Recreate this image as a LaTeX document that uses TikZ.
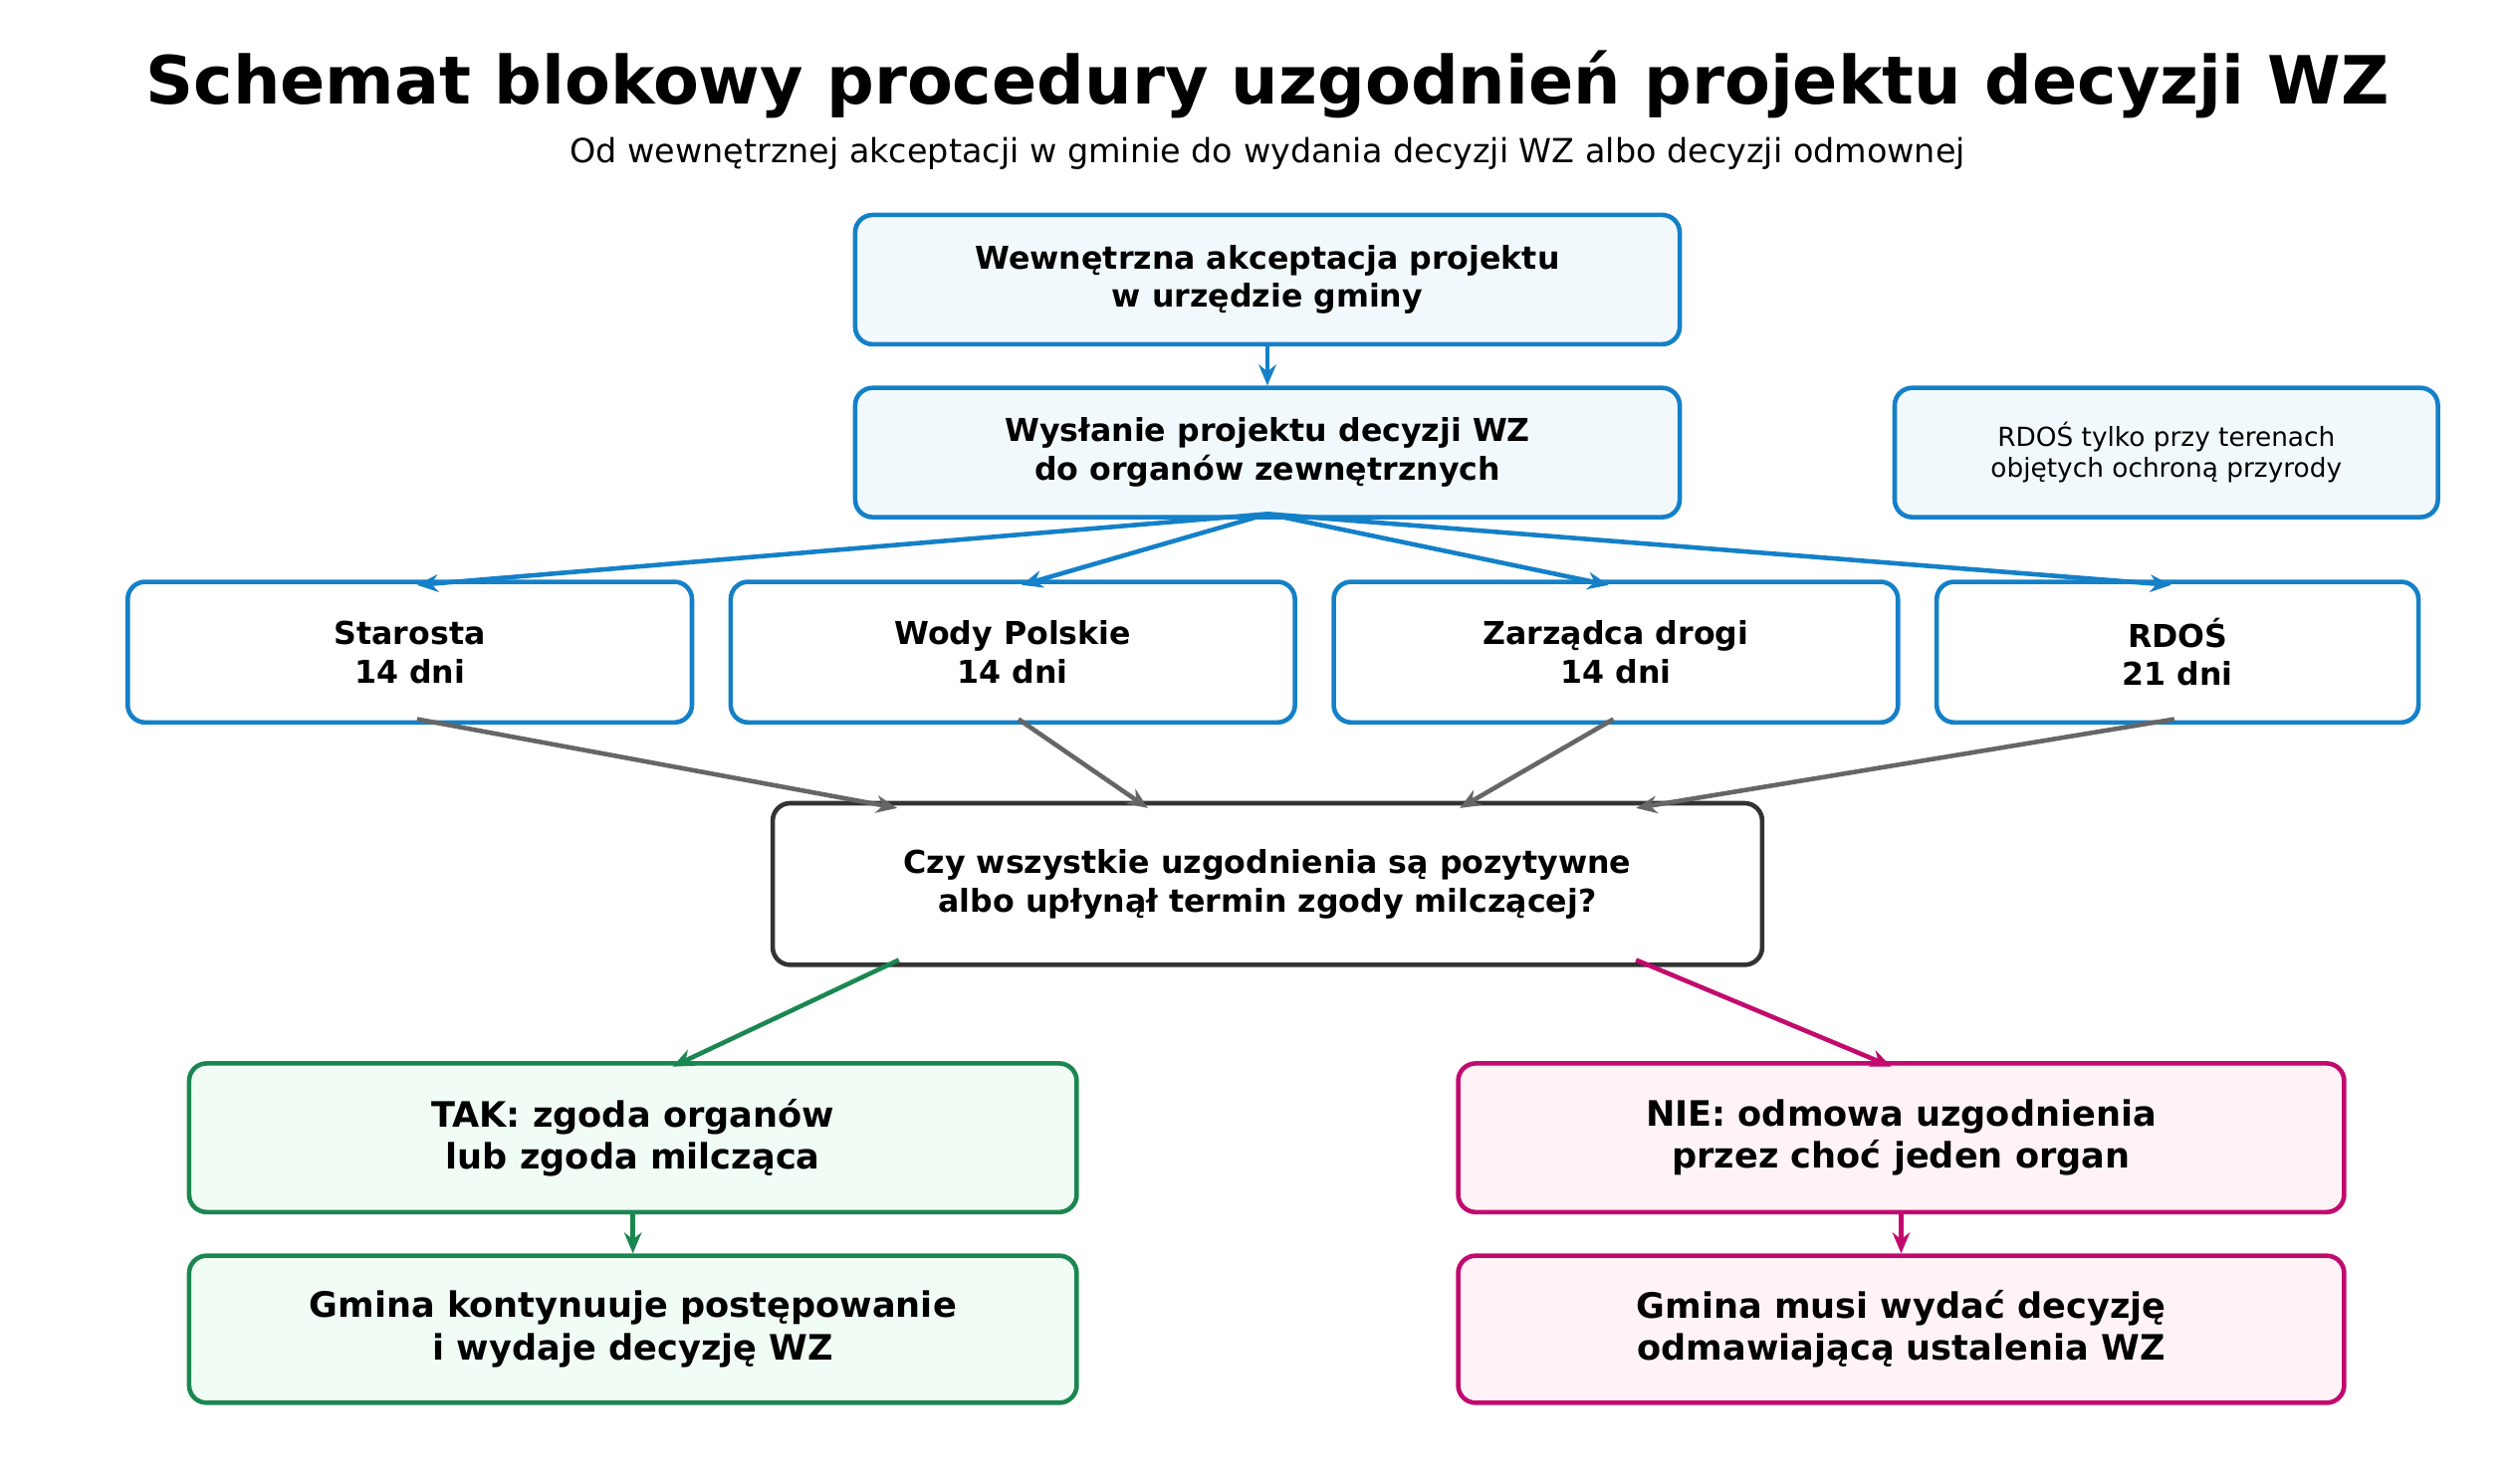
\documentclass[tikz,border=0pt]{standalone}
\usepackage{fontspec}
\setmainfont{DejaVu Sans}
\usetikzlibrary{arrows.meta}
\definecolor{bl}{HTML}{1480C8}\definecolor{blf}{HTML}{F2F9FC}
\definecolor{gr}{HTML}{1B8750}\definecolor{grf}{HTML}{F0FCF4}
\definecolor{mg}{HTML}{C20A6E}\definecolor{mgf}{HTML}{FFF3F8}
\definecolor{dk}{HTML}{333333}\definecolor{gy}{HTML}{666666}
\begin{document}
\begin{tikzpicture}[x=0.016237cm,y=-0.016237cm,
 sz/.style 2 args={minimum width=#1*0.46198pt, minimum height=#2*0.46198pt},
 box/.style={draw, line width=1.3pt, rounded corners=5pt, align=center, inner sep=0pt, font=\bfseries\fontsize{9}{11}\selectfont},
 bb/.style={box, draw=bl, fill=blf},
 wb/.style={box, draw=bl, fill=white},
 gb/.style={box, draw=gr, fill=grf, font=\bfseries\fontsize{10}{12}\selectfont},
 mb/.style={box, draw=mg, fill=mgf, font=\bfseries\fontsize{10}{12}\selectfont},
 ar/.style={-{Stealth[length=6pt,width=5pt]}, line width=1.3pt}]
\path[use as bounding box] (0,0) rectangle (1552,918);
\node[font=\bfseries\fontsize{19}{22}\selectfont] (t) at (784,52) {Schemat blokowy procedury uzgodnień projektu decyzji WZ};
\node[font=\fontsize{9.5}{11}\selectfont] (s) at (784,95) {Od wewnętrznej akceptacji w gminie do wydania decyzji WZ albo decyzji odmownej};
\node[bb, sz={510}{80}] (a) at (784,173) {Wewnętrzna akceptacja projektu\\w urzędzie gminy};
\node[bb, sz={510}{80}] (b) at (784,280) {Wysłanie projektu decyzji WZ\\do organów zewnętrznych};
\node[bb, sz={336}{80}, font=\fontsize{7.5}{9}\selectfont] (n) at (1340,280) {RDOŚ tylko przy terenach\\objętych ochroną przyrody};
\node[wb, sz={349}{87}] (m1) at (253.5,403.5) {Starosta\\14 dni};
\node[wb, sz={349}{87}] (m2) at (626.5,403.5) {Wody Polskie\\14 dni};
\node[wb, sz={349}{87}] (m3) at (999.5,403.5) {Zarządca drogi\\14 dni};
\node[wb, sz={298}{87}] (m4) at (1347,403.5) {RDOŚ\\21 dni};
\node[box, draw=dk, fill=white, sz={612}{100}] (q) at (784,547) {Czy wszystkie uzgodnienia są pozytywne\\albo upłynął termin zgody milczącej?};
\node[gb, sz={549}{92}] (y) at (391.5,704) {TAK: zgoda organów\\lub zgoda milcząca};
\node[gb, sz={549}{91}] (y2) at (391.5,822.5) {Gmina kontynuuje postępowanie\\i wydaje decyzję WZ};
\node[mb, sz={548}{92}] (x) at (1176,704) {NIE: odmowa uzgodnienia\\przez choć jeden organ};
\node[mb, sz={548}{91}] (x2) at (1176,822.5) {Gmina musi wydać decyzję\\odmawiającą ustalenia WZ};
\draw[ar, bl] (a) -- (b);
\coordinate (bs) at (784,318);
\foreach \m/\xx in {m1/258, m2/632, m3/995, m4/1343} \draw[ar, bl] (bs) -- (\xx,362);
\draw[ar, gy] (258,445) -- (555,500);
\draw[ar, gy] (630,445) -- (710,500);
\draw[ar, gy] (998,445) -- (903,500);
\draw[ar, gy] (1345,445) -- (1012,500);
\draw[ar, gr] (556,594) -- (416,660);
\draw[ar, mg] (1012,594) -- (1170,660);
\draw[ar, gr] (y) -- (y2);
\draw[ar, mg] (x) -- (x2);
\end{tikzpicture}
\end{document}
